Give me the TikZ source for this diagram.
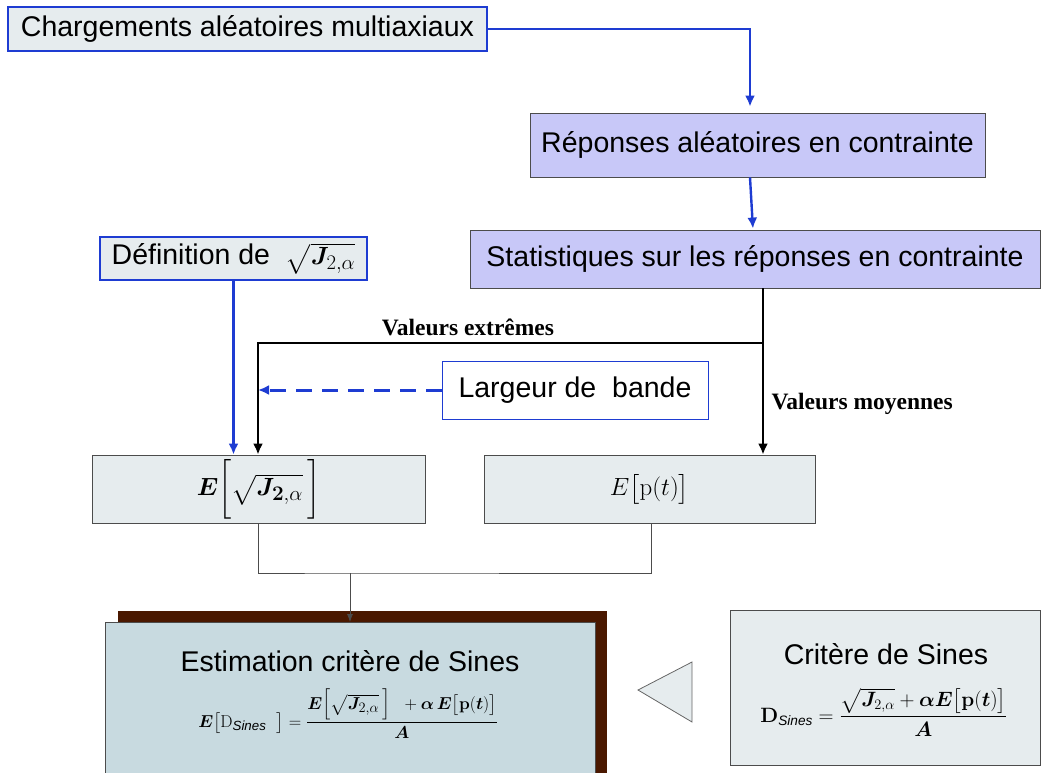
\documentclass[tikz,border=0pt]{standalone}
\usepackage{amsmath}
\usepackage{bm}
\usepackage[no-math]{fontspec}
\setmainfont{Liberation Sans}
\newfontfamily\timesbf{Liberation Serif}
\usetikzlibrary{arrows.meta}
\definecolor{bleutrait}{RGB}{30,60,210}
\definecolor{grisclair}{RGB}{230,236,238}
\definecolor{lavande}{RGB}{200,200,248}
\definecolor{brunombre}{RGB}{74,24,0}
\definecolor{bleugris}{RGB}{200,218,224}
\begin{document}
\begin{tikzpicture}[
    x=1pt, y=-1pt,
    boite/.style={rectangle, draw=black!70, line width=0.8pt, fill=grisclair, inner sep=0pt, font=\fontsize{28.5}{32}\selectfont},
    boitebleue/.style={boite, draw=bleutrait, line width=2.5pt},
    boitelav/.style={boite, fill=lavande},
    titre/.style={font=\fontsize{28.5}{32}\selectfont, inner sep=1pt, anchor=south},
    formule/.style={inner sep=1pt, anchor=north},
    lienbleu/.style={draw=bleutrait, line width=2.4pt, -{Latex[length=11pt,width=10pt]}},
    liennoir/.style={draw=black, line width=2.2pt, -{Latex[length=11pt,width=10pt]}},
    lienfin/.style={draw=black!70, line width=0.8pt},
    etiquette/.style={font=\timesbf\bfseries\fontsize{23.5}{26}\selectfont}
]
\useasboundingbox (0,0) rectangle (1045,773);

% Boîtes du haut
\node[boitebleue, minimum width=479pt, minimum height=44pt] (charg) at (247.5,29) {Chargements aléatoires multiaxiaux};
\node[boitelav, minimum width=455pt, minimum height=64pt] (rep) at (757.5,145) {Réponses aléatoires en contrainte};
\node[boitelav, minimum width=570pt, minimum height=58pt] (stat) at (755,259) {Statistiques sur les réponses en contrainte};
\node[boitebleue, minimum width=267pt, minimum height=43pt] (def) at (233.5,258.5) {Définition de \ $\sqrt{\bm{J}_{2,\alpha}}$};
\node[boite, draw=bleutrait, fill=white, minimum width=266pt, minimum height=58pt] (larg) at (575,390) {Largeur de \ bande};

% Boîtes des espérances
\node[boite, minimum width=333pt, minimum height=68pt] (eJ) at (258.5,489)
    {\fontsize{28}{32}\selectfont $\bm{E}\biggl[\sqrt{\bm{J}_{\mathbf{2},\alpha}}\,\biggr]$};
\node[boite, minimum width=331pt, minimum height=68pt] (eP) at (649.5,489)
    {\fontsize{28}{32}\selectfont $E\bigl[\mathrm{p}(t)\bigr]$};

% Estimation (avec ombre)
\fill[brunombre] (118,611) rectangle (607,780);
\node[boite, fill=bleugris, minimum width=490pt, minimum height=162pt, anchor=north west] (estim) at (105,622) {};
\node[titre] (estimtxt) at (350,673) {Estimation critère de Sines};
\node[formule, font=\fontsize{19}{22}\selectfont] (estimform) at (348,688)
    {$\bm{E}\bigl[\mathrm{D}_{\textit{Sines}}\ \ \bigr]=\dfrac{\bm{E}\Bigl[\sqrt{\bm{J}_{2,\alpha}}\,\Bigr]\ \ +\bm{\alpha}\,\bm{E}\bigl[\mathbf{p}(\bm{t})\bigr]}{\bm{A}}$};

% Critère de Sines
\node[boite, minimum width=310pt, minimum height=155pt] (crit) at (885,687.5) {};
\node[titre] (crittxt) at (886,666) {Critère de Sines};
\node[formule, font=\fontsize{19.5}{22}\selectfont] (critform) at (884,687)
    {$\mathbf{D}_{\textit{Sines}}=\dfrac{\sqrt{\bm{J}_{2,\alpha}}+\bm{\alpha}\bm{E}\bigl[\mathbf{p}(\bm{t})\bigr]}{\bm{A}}$};
\draw[draw=black!60, line width=0.8pt, fill=grisclair] (638,690) -- (692,662) -- (692,722) -- cycle;

% Points de passage
\coordinate (coude) at (763,343);
\coordinate (gauche) at (258,343);
\coordinate (bas) at (350,573);

% Liaisons bleues
\draw[lienbleu, shorten >=6pt] (charg.east) -| ([xshift=-7.5pt]rep.north);
\draw[lienbleu, shorten >=1pt] ([xshift=-7.5pt]rep.south) -- ([xshift=-2pt]stat.north);
\draw[lienbleu] (def.south) -- (def.south |- eJ.north);
\draw[lienbleu, dashed, dash pattern=on 16pt off 10pt, line width=3pt] (larg.west) -- (gauche |- larg.west);

% Liaisons noires
\draw[liennoir] (stat.south -| coude) -- (eP.north -| coude);
\draw[liennoir] (coude) -- (gauche) -- (gauche |- eJ.north);
\node[etiquette, anchor=south] (ext) at (468,339) {Valeurs extrêmes};
\node[etiquette, anchor=west] (moy) at (768,404) {Valeurs moyennes};

% Réunion vers l'estimation
\draw[lienfin] (eJ.south -| gauche) |- (bas) -| (eP.south -| 651,0);
\draw[lienfin, -{Latex[length=8pt,width=6pt]}] (bas) -- (estim.north -| bas);
\end{tikzpicture}
\end{document}
